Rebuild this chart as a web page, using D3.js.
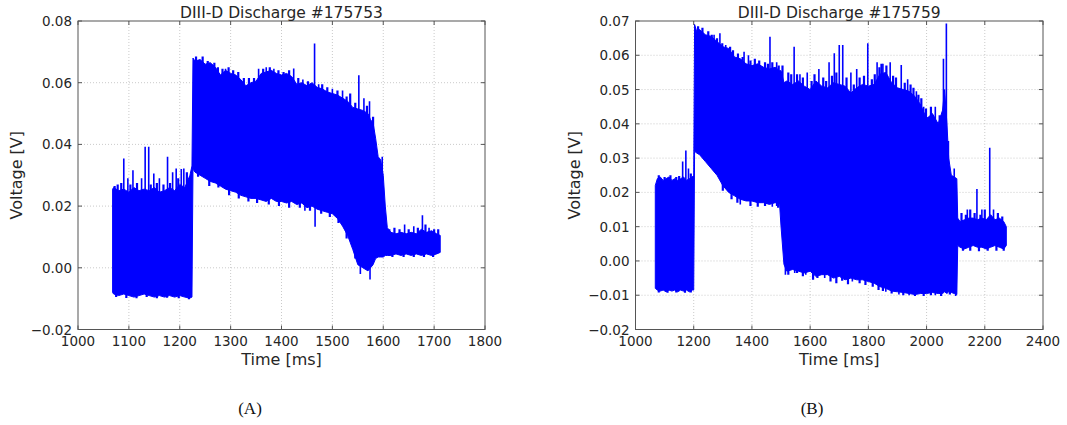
<!DOCTYPE html>
<html>
<head>
<meta charset="utf-8">
<script src="https://cdn.jsdelivr.net/npm/d3@7"></script>
<style>
  body { margin: 0; background: #fff; }
  svg { display: block; }
</style>
</head>
<body>
<svg id="fig" width="1067" height="425"></svg>
<script>
// ---- Shot #175753: envelope of the probe voltage (time in ms, volts) ----
const shotATime = [1068, 1070, 1080, 1090, 1100, 1110, 1120, 1130, 1140, 1150, 1160, 1170, 1180, 1190, 1200, 1210, 1220, 1224,
  1226, 1230, 1240, 1250, 1260, 1270, 1280, 1290, 1300, 1310, 1320, 1330, 1340, 1350, 1360, 1370, 1380, 1390, 1400,
  1410, 1420, 1430, 1440, 1450, 1460, 1470, 1480, 1490, 1500, 1510, 1520, 1530, 1540, 1550, 1560, 1570, 1575, 1580,
  1585, 1590, 1595, 1600, 1604, 1608, 1615, 1625, 1635, 1645, 1655, 1665, 1675, 1685, 1695, 1705, 1712];
const shotAUpper = [0.0255, 0.026, 0.025, 0.0255, 0.0245, 0.026, 0.025, 0.0255, 0.025, 0.026, 0.0245, 0.025, 0.026, 0.025, 0.027, 0.026, 0.030, 0.033,
  0.068, 0.067, 0.0675, 0.066, 0.0665, 0.065, 0.0625, 0.064, 0.063, 0.0625, 0.061, 0.059, 0.060, 0.0605, 0.063, 0.0635, 0.064, 0.063, 0.0625,
  0.063, 0.062, 0.0595, 0.060, 0.059, 0.060, 0.0585, 0.058, 0.057, 0.0565, 0.056, 0.055, 0.054, 0.052, 0.0515, 0.051, 0.050, 0.048, 0.047,
  0.042, 0.036, 0.035, 0.030, 0.020, 0.013, 0.0115, 0.011, 0.0115, 0.011, 0.0115, 0.011, 0.0125, 0.0115, 0.012, 0.011, 0.0105];
const shotALower = [-0.008, -0.0085, -0.009, -0.0085, -0.009, -0.0095, -0.009, -0.0085, -0.009, -0.0095, -0.009, -0.0095, -0.009, -0.0095, -0.009, -0.0095, -0.0098, -0.0095,
  0.032, 0.031, 0.030, 0.029, 0.028, 0.0275, 0.0265, 0.0255, 0.025, 0.0245, 0.0235, 0.023, 0.0225, 0.0225, 0.022, 0.0215, 0.0225, 0.0215, 0.0215,
  0.021, 0.0215, 0.0205, 0.021, 0.0195, 0.020, 0.019, 0.0185, 0.018, 0.0175, 0.016, 0.0135, 0.0105, 0.006, 0.001, 0.0, -0.001, 0.0, 0.001,
  0.003, 0.0035, 0.0035, 0.0035, 0.004, 0.004, 0.004, 0.0045, 0.004, 0.0045, 0.004, 0.0045, 0.004, 0.0045, 0.004, 0.0045, 0.005];
// isolated excursions beyond the envelope (tall ones)
const shotASpikeTime = [1090, 1098, 1108, 1125, 1132, 1139, 1149, 1160, 1176, 1186, 1193, 1203, 1208, 1262, 1290, 1355, 1370, 1385,
  1424, 1442, 1465, 1473, 1500, 1520, 1552, 1562, 1573, 1598, 1642, 1660, 1677, 1690,
  1446, 1466, 1555, 1574];
const shotASpikeValue = [0.0354, 0.029, 0.0316, 0.029, 0.0392, 0.0392, 0.0306, 0.029, 0.036, 0.031, 0.0322, 0.032, 0.0322, 0.066, 0.0645, 0.0645, 0.065, 0.0645,
  0.0646, 0.061, 0.0727, 0.0595, 0.058, 0.0575, 0.0624, 0.055, 0.054, 0.036, 0.014, 0.0135, 0.017, 0.013,
  0.0185, 0.0133, -0.002, -0.0038];
// small ripples along both edges
const shotARippleTime = [1072, 1078, 1085, 1103, 1116, 1143, 1155, 1168, 1181, 1197, 1214,
  1075, 1095, 1115, 1135, 1155, 1175, 1198, 1218,
  1232, 1245, 1255, 1268, 1275, 1284, 1296, 1305, 1315, 1326, 1336, 1346, 1364, 1377, 1394, 1404, 1415, 1433, 1452, 1480, 1490, 1510, 1528, 1535, 1545, 1568, 1580,
  1236, 1258, 1276, 1297, 1316, 1335, 1352, 1375, 1395, 1415, 1436, 1456, 1478, 1495, 1512, 1528, 1545,
  1612, 1622, 1632, 1650, 1668, 1683, 1700, 1708,
  1618, 1640, 1660, 1680, 1698];
const shotARippleValue = [0.0265, 0.027, 0.0275, 0.027, 0.0275, 0.027, 0.0275, 0.027, 0.0275, 0.029, 0.031,
  -0.0095, -0.0098, -0.0099, -0.0095, -0.0099, -0.0097, -0.0099, -0.0102,
  0.0685, 0.0685, 0.067, 0.0665, 0.065, 0.0645, 0.065, 0.064, 0.0635, 0.0615, 0.0615, 0.0615, 0.0645, 0.065, 0.064, 0.0635, 0.064, 0.0615, 0.0605, 0.0595, 0.0585, 0.0575, 0.0555, 0.0565, 0.0535, 0.0525, 0.049,
  0.0295, 0.0265, 0.026, 0.0235, 0.0225, 0.0215, 0.021, 0.0205, 0.020, 0.0195, 0.0195, 0.0185, 0.0175, 0.0165, 0.0145, 0.0095, 0.003,
  0.0125, 0.013, 0.0125, 0.0125, 0.013, 0.014, 0.0125, 0.0125,
  0.0035, 0.0035, 0.0035, 0.0035, 0.0035];

// ---- Shot #175759 ----
const shotBTime = [1068, 1075, 1085, 1095, 1105, 1115, 1125, 1135, 1145, 1155, 1165, 1175, 1185, 1195, 1200,
  1203, 1210, 1220, 1240, 1260, 1280, 1300, 1320, 1340, 1360, 1380, 1400, 1420, 1440, 1460, 1480, 1495, 1500, 1510, 1520,
  1540, 1560, 1580, 1600, 1620, 1640, 1660, 1680, 1700, 1720, 1740, 1760, 1780, 1800, 1820, 1840, 1860, 1880, 1900,
  1920, 1940, 1960, 1980, 2000, 2020, 2040, 2055, 2062, 2070, 2076, 2085, 2095, 2104,
  2107, 2115, 2130, 2145, 2160, 2175, 2190, 2205, 2220, 2235, 2250, 2265, 2274];
const shotBUpper = [0.022, 0.024, 0.0245, 0.0235, 0.024, 0.0245, 0.0235, 0.024, 0.0235, 0.024, 0.0245, 0.0235, 0.024, 0.0245, 0.025,
  0.069, 0.067, 0.0675, 0.066, 0.0655, 0.064, 0.0625, 0.062, 0.0595, 0.059, 0.0575, 0.057, 0.0575, 0.0565, 0.056, 0.0565, 0.0555, 0.0555, 0.052, 0.0525,
  0.0515, 0.0525, 0.051, 0.050, 0.0525, 0.051, 0.0505, 0.052, 0.0515, 0.051, 0.049, 0.0505, 0.0515, 0.051, 0.0515, 0.0545, 0.055, 0.052, 0.0505,
  0.050, 0.0495, 0.048, 0.0455, 0.0415, 0.043, 0.040, 0.044, 0.050, 0.040, 0.030, 0.025, 0.0245, 0.024,
  0.0125, 0.0115, 0.012, 0.0125, 0.0125, 0.012, 0.0125, 0.012, 0.0135, 0.012, 0.0125, 0.0115, 0.010];
const shotBLower = [-0.008, -0.0085, -0.0088, -0.0085, -0.009, -0.0085, -0.0088, -0.0085, -0.009, -0.0085, -0.0088, -0.0085, -0.009, -0.0085, -0.0085,
  0.032, 0.0315, 0.031, 0.029, 0.027, 0.025, 0.022, 0.020, 0.019, 0.018, 0.0175, 0.0175, 0.017, 0.017, 0.0165, 0.017, 0.0165, 0.010, -0.001, -0.003,
  -0.0025, -0.003, -0.0035, -0.003, -0.0045, -0.004, -0.004, -0.005, -0.0045, -0.0055, -0.005, -0.0055, -0.0055, -0.006, -0.0065, -0.0075, -0.008, -0.0088, -0.009,
  -0.0092, -0.0095, -0.0098, -0.0095, -0.0095, -0.0092, -0.0095, -0.0095, -0.009, -0.0095, -0.009, -0.0092, -0.0095, -0.0098,
  0.0045, 0.004, 0.0035, 0.004, 0.0045, 0.004, 0.004, 0.0035, 0.004, 0.0045, 0.004, 0.0035, 0.0045];
const shotBSpikeTime = [1162, 1173, 1182, 1270, 1290, 1310, 1345, 1373, 1388, 1462, 1485, 1545, 1565, 1590, 1630, 1665, 1683, 1700, 1712,
  1740, 1760, 1798, 1830, 1850, 1875, 1913, 1935, 1965, 1990, 2005, 2030, 2058, 2068, 2075, 2095, 2140, 2173, 2190, 2217, 2230,
  1515, 1547, 1585, 1650, 1745, 1860, 1905, 1940, 2030, 2100, 1360, 1470, 1485];
const shotBSpikeValue = [0.029, 0.0322, 0.027, 0.066, 0.0664, 0.063, 0.059, 0.061, 0.060, 0.0654, 0.058, 0.0625, 0.0545, 0.055, 0.056, 0.058, 0.0606, 0.063, 0.063,
  0.055, 0.056, 0.0635, 0.058, 0.0575, 0.058, 0.0572, 0.053, 0.0495, 0.045, 0.042, 0.045, 0.059, 0.0693, 0.035, 0.027, 0.015, 0.021, 0.015, 0.033, 0.015,
  -0.004, -0.0035, -0.004, -0.005, -0.006, -0.009, -0.0098, -0.010, -0.010, -0.0102, 0.0165, 0.0158, 0.016];
const shotBRippleTime = [1080, 1100, 1120, 1140, 1150, 1190,
  1080, 1110, 1140, 1170, 1190,
  1215, 1230, 1250, 1262, 1280, 1298, 1325, 1335, 1352, 1368, 1395, 1410, 1425, 1445, 1455, 1470, 1492, 1505, 1525, 1535, 1555, 1575,
  1605, 1615, 1645, 1655, 1675, 1690, 1725, 1750, 1770, 1785, 1812, 1822, 1838, 1845, 1862, 1885, 1895, 1925, 1945, 1955, 1972, 1982, 1998, 2015, 2045,
  1300, 1330, 1350, 1395, 1420, 1445, 1490,
  1525, 1555, 1575, 1610, 1625, 1670, 1690, 1710, 1730, 1770, 1790, 1815, 1835, 1850, 1880, 1920, 1960, 1990, 2015, 2050, 2080,
  2120, 2135, 2150, 2165, 2185, 2200, 2245, 2260,
  2125, 2150, 2180, 2210, 2240, 2265];
const shotBRippleValue = [0.025, 0.0245, 0.025, 0.0245, 0.0248, 0.0255,
  -0.0092, -0.0093, -0.0092, -0.0093, -0.0092,
  0.0685, 0.068, 0.067, 0.066, 0.065, 0.0635, 0.0625, 0.0615, 0.0605, 0.0595, 0.0585, 0.059, 0.0585, 0.058, 0.0575, 0.058, 0.057, 0.057, 0.055, 0.0545, 0.0545, 0.0535,
  0.0525, 0.0545, 0.0535, 0.0525, 0.054, 0.055, 0.0535, 0.0515, 0.0535, 0.054, 0.053, 0.0545, 0.0565, 0.0575, 0.057, 0.054, 0.0535, 0.052, 0.0515, 0.0505, 0.0485, 0.0475, 0.0445, 0.045, 0.0425,
  0.0205, 0.018, 0.017, 0.016, 0.0158, 0.016, 0.0155,
  -0.004, -0.0035, -0.0045, -0.0055, -0.005, -0.006, -0.0065, -0.0058, -0.0068, -0.0065, -0.007, -0.0075, -0.0085, -0.0088, -0.0095, -0.010, -0.0102, -0.0102, -0.010, -0.0102, -0.0098,
  0.014, 0.0135, 0.015, 0.014, 0.0135, 0.015, 0.014, 0.013,
  0.003, 0.003, 0.0028, 0.003, 0.003, 0.003];

// ---- axis ticks ----
const shotATimeTicks = [1000, 1100, 1200, 1300, 1400, 1500, 1600, 1700, 1800];
const shotAVoltTicks = [-0.02, 0.00, 0.02, 0.04, 0.06, 0.08];
const shotBTimeTicks = [1000, 1200, 1400, 1600, 1800, 2000, 2200, 2400];
const shotBVoltTicks = [-0.02, -0.01, 0.00, 0.01, 0.02, 0.03, 0.04, 0.05, 0.06, 0.07];

const titles = ["DIII-D Discharge #175753", "DIII-D Discharge #175759"];
const captions = ["(A)", "(B)"];

// ---- layout ----
const panels = [
  { time: shotATime, upper: shotAUpper, lower: shotALower,
    spikeTime: shotASpikeTime, spikeValue: shotASpikeValue, rippleTime: shotARippleTime, rippleValue: shotARippleValue,
    xTicks: shotATimeTicks, yTicks: shotAVoltTicks, title: titles[0], caption: captions[0],
    left: 78, right: 485, top: 21, bottom: 329.5, captionX: 250 },
  { time: shotBTime, upper: shotBUpper, lower: shotBLower,
    spikeTime: shotBSpikeTime, spikeValue: shotBSpikeValue, rippleTime: shotBRippleTime, rippleValue: shotBRippleValue,
    xTicks: shotBTimeTicks, yTicks: shotBVoltTicks, title: titles[1], caption: captions[1],
    left: 635.5, right: 1043, top: 21, bottom: 329.5, captionX: 812 }
];

const svg = d3.select("#fig");
const ink = "#262626";
const frame = "#555";
const blue = "#0000ff";
const fmt = d3.format(".2f");

panels.forEach((p, k) => {
  const x = d3.scaleLinear().domain(d3.extent(p.xTicks)).range([p.left, p.right]);
  const y = d3.scaleLinear().domain(d3.extent(p.yTicks)).range([p.bottom, p.top]);
  const g = svg.append("g");

  // dotted grid
  g.append("g").selectAll("line").data(p.xTicks.slice(1, -1)).join("line")
    .attr("x1", d => x(d)).attr("x2", d => x(d)).attr("y1", p.top).attr("y2", p.bottom)
    .attr("stroke", "#bdbdbd").attr("stroke-width", 0.8).attr("stroke-dasharray", "1,2");
  g.append("g").selectAll("line").data(p.yTicks.slice(1, -1)).join("line")
    .attr("x1", p.left).attr("x2", p.right).attr("y1", d => y(d)).attr("y2", d => y(d))
    .attr("stroke", "#bdbdbd").attr("stroke-width", 0.8).attr("stroke-dasharray", "1,2");

  // signal: filled envelope plus vertical excursions
  const clipId = "clip" + k;
  g.append("clipPath").attr("id", clipId).append("rect")
    .attr("x", p.left).attr("y", p.top).attr("width", p.right - p.left).attr("height", p.bottom - p.top);
  const sig = g.append("g").attr("clip-path", `url(#${clipId})`);
  const rows = p.time.map((t, i) => ({ t, hi: p.upper[i], lo: p.lower[i] }));
  const area = d3.area().x(d => x(d.t)).y0(d => y(d.lo)).y1(d => y(d.hi));
  sig.append("path").datum(rows).attr("d", area)
    .attr("fill", blue).attr("stroke", blue).attr("stroke-width", 1).attr("stroke-linejoin", "miter");

  const bis = d3.bisector(d => d.t).left;
  const anchor = (t, v) => {
    const j = Math.min(rows.length - 1, bis(rows, t));
    return { t, v, mid: (rows[j].hi + rows[j].lo) / 2 };
  };
  const ripples = p.rippleTime.map((t, i) => anchor(t, p.rippleValue[i]));
  sig.append("g").selectAll("line").data(ripples).join("line")
    .attr("x1", d => x(d.t)).attr("x2", d => x(d.t))
    .attr("y1", d => y(d.mid)).attr("y2", d => y(d.v))
    .attr("stroke", blue).attr("stroke-width", 2.2);
  const spikes = p.spikeTime.map((t, i) => anchor(t, p.spikeValue[i]));
  sig.append("g").selectAll("line").data(spikes).join("line")
    .attr("x1", d => x(d.t)).attr("x2", d => x(d.t))
    .attr("y1", d => y(d.mid)).attr("y2", d => y(d.v))
    .attr("stroke", blue).attr("stroke-width", 1.6);

  // frame and inward ticks on all sides
  g.append("rect").attr("x", p.left).attr("y", p.top)
    .attr("width", p.right - p.left).attr("height", p.bottom - p.top)
    .attr("fill", "none").attr("stroke", frame).attr("stroke-width", 1);
  const tk = g.append("g").attr("stroke", frame).attr("stroke-width", 1);
  p.xTicks.forEach(d => {
    tk.append("line").attr("x1", x(d)).attr("x2", x(d)).attr("y1", p.bottom).attr("y2", p.bottom - 4);
    tk.append("line").attr("x1", x(d)).attr("x2", x(d)).attr("y1", p.top).attr("y2", p.top + 4);
  });
  p.yTicks.forEach(d => {
    tk.append("line").attr("x1", p.left).attr("x2", p.left + 4).attr("y1", y(d)).attr("y2", y(d));
    tk.append("line").attr("x1", p.right).attr("x2", p.right - 4).attr("y1", y(d)).attr("y2", y(d));
  });

  // tick labels
  const font = "'DejaVu Sans', sans-serif";
  g.append("g").selectAll("text").data(p.xTicks).join("text")
    .attr("x", d => x(d)).attr("y", p.bottom + 16.5)
    .attr("text-anchor", "middle").attr("font-family", font).attr("font-size", 13.5).attr("fill", ink)
    .text(d => d);
  g.append("g").selectAll("text").data(p.yTicks).join("text")
    .attr("x", p.left - 6).attr("y", d => y(d) + 5)
    .attr("text-anchor", "end").attr("font-family", font).attr("font-size", 13.5).attr("fill", ink)
    .text(d => fmt(d));

  // title and axis labels
  g.append("text").attr("x", (p.left + p.right) / 2).attr("y", 17.5)
    .attr("text-anchor", "middle").attr("font-family", font).attr("font-size", 15.5).attr("fill", ink)
    .text(p.title);
  g.append("text").attr("x", (p.left + p.right) / 2).attr("y", 365)
    .attr("text-anchor", "middle").attr("font-family", font).attr("font-size", 16).attr("fill", ink)
    .text("Time [ms]");
  g.append("text")
    .attr("transform", `translate(${p.left - 56},${(p.top + p.bottom) / 2}) rotate(-90)`)
    .attr("text-anchor", "middle").attr("font-family", font).attr("font-size", 16).attr("fill", ink)
    .text("Voltage [V]");

  // sub-figure caption
  g.append("text").attr("x", p.captionX).attr("y", 414)
    .attr("text-anchor", "middle").attr("font-family", "'Liberation Serif', 'DejaVu Serif', serif")
    .attr("font-size", 17).attr("fill", "#111").text(p.caption);
});
</script>
</body>
</html>
